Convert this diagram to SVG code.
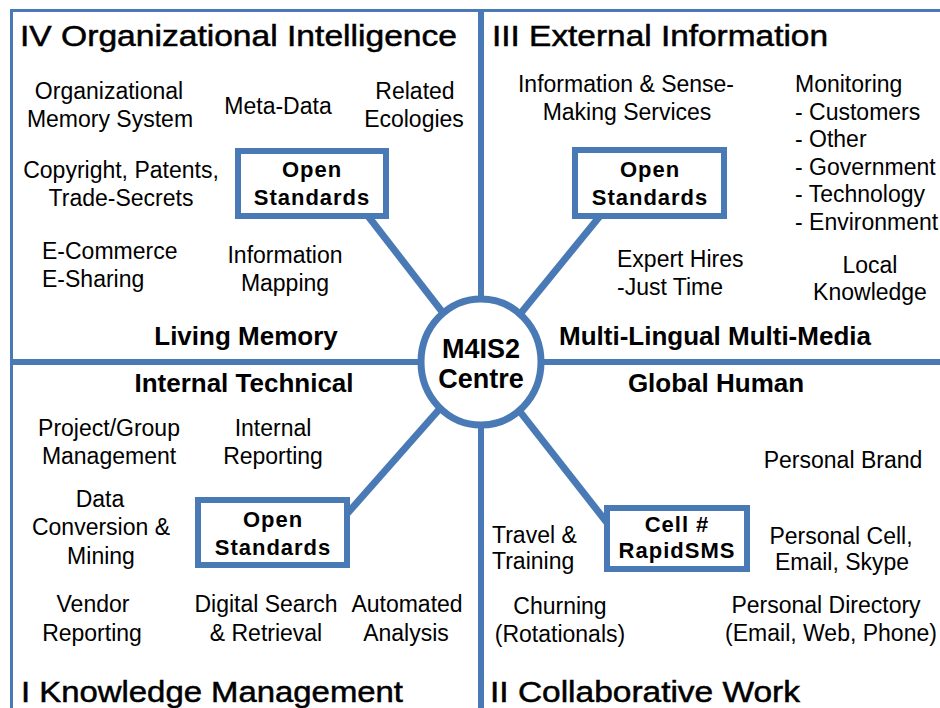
<svg xmlns="http://www.w3.org/2000/svg" width="940" height="708" viewBox="0 0 940 708">
<style>
text{font-family:"Liberation Sans",Arial,Helvetica,sans-serif;fill:#000}
.t{font-size:29px;stroke:#000;stroke-width:0.5}
.s{font-size:26px;font-weight:bold;text-anchor:middle}
.b{font-size:23px;text-anchor:middle}
.bl{font-size:23px;text-anchor:start}
.k{font-size:22px;font-weight:bold;text-anchor:middle;letter-spacing:1px}
.c{font-size:27px;font-weight:bold;text-anchor:middle}
.fr{stroke:#4A7AB5;stroke-width:3;fill:none}
.dv{stroke:#4A7AB5;stroke-width:6;fill:none}
.ln{stroke:#4A7AB5;stroke-width:7;fill:none}
.bx{fill:#fff;stroke:#4A7AB5;stroke-width:6}
</style>
<rect width="940" height="708" fill="#fff"/>
<g id="frame">
<line class="fr" x1="10" y1="10.5" x2="940" y2="10.5"/>
<line class="fr" x1="11.5" y1="9" x2="11.5" y2="708"/>
<line class="dv" x1="481" y1="9" x2="481" y2="708"/>
<line class="dv" x1="10" y1="362" x2="940" y2="362"/>
</g>
<g id="connectors">
<line class="ln" x1="368" y1="216" x2="481" y2="362"/>
<line class="ln" x1="600" y1="216" x2="481" y2="362"/>
<line class="ln" x1="346" y1="515" x2="481" y2="362"/>
<line class="ln" x1="608" y1="524" x2="481" y2="362"/>
</g>
<g id="box-iv">
<rect class="bx" x="238" y="151" width="148" height="65"/>
<text class="k" x="312" y="177">Open</text>
<text class="k" x="312" y="205">Standards</text>
</g>
<g id="box-iii">
<rect class="bx" x="575" y="150" width="149" height="66"/>
<text class="k" x="650" y="177">Open</text>
<text class="k" x="650" y="205">Standards</text>
</g>
<g id="box-i">
<rect class="bx" x="198" y="500" width="149" height="65"/>
<text class="k" x="273" y="527">Open</text>
<text class="k" x="273" y="555">Standards</text>
</g>
<g id="box-ii">
<rect class="bx" x="607" y="508" width="140" height="61"/>
<text class="k" x="677" y="532">Cell #</text>
<text class="k" x="677" y="558">RapidSMS</text>
</g>
<g id="centre">
<ellipse cx="481" cy="362" rx="60" ry="63" fill="#fff" stroke="#4A7AB5" stroke-width="7"/>
<text class="c" x="481" y="358">M4IS2</text>
<text class="c" x="481" y="388">Centre</text>
</g>
<g id="quadrant-iv">
<text class="t" x="20" y="46" textLength="437" lengthAdjust="spacingAndGlyphs">IV Organizational Intelligence</text>
<text class="b" x="109" y="99">Organizational</text>
<text class="b" x="110" y="127">Memory System</text>
<text class="b" x="278" y="114">Meta-Data</text>
<text class="b" x="415" y="99">Related</text>
<text class="b" x="414" y="127">Ecologies</text>
<text class="b" x="121" y="178">Copyright, Patents,</text>
<text class="b" x="121" y="206">Trade-Secrets</text>
<text class="bl" x="42" y="259">E-Commerce</text>
<text class="bl" x="42" y="287">E-Sharing</text>
<text class="b" x="285" y="263">Information</text>
<text class="b" x="285" y="291">Mapping</text>
<text class="s" x="246" y="345">Living Memory</text>
</g>
<g id="quadrant-iii">
<text class="t" x="492" y="46" textLength="336" lengthAdjust="spacingAndGlyphs">III External Information</text>
<text class="b" x="626" y="92">Information &amp; Sense-</text>
<text class="b" x="627" y="120">Making Services</text>
<text class="bl" x="795" y="92">Monitoring</text>
<text class="bl" x="795" y="120">- Customers</text>
<text class="bl" x="795" y="147">- Other</text>
<text class="bl" x="795" y="175">- Government</text>
<text class="bl" x="795" y="202">- Technology</text>
<text class="bl" x="795" y="230">- Environment</text>
<text class="bl" x="617" y="267">Expert Hires</text>
<text class="bl" x="617" y="295">-Just Time</text>
<text class="b" x="870" y="273">Local</text>
<text class="b" x="870" y="300">Knowledge</text>
<text class="s" x="715" y="345">Multi-Lingual Multi-Media</text>
</g>
<g id="quadrant-i">
<text class="s" x="244" y="392">Internal Technical</text>
<text class="b" x="109" y="436">Project/Group</text>
<text class="b" x="109" y="464">Management</text>
<text class="b" x="273" y="436">Internal</text>
<text class="b" x="273" y="464">Reporting</text>
<text class="b" x="100" y="507">Data</text>
<text class="b" x="101" y="535">Conversion &amp;</text>
<text class="b" x="101" y="564">Mining</text>
<text class="b" x="93" y="612">Vendor</text>
<text class="b" x="92" y="641">Reporting</text>
<text class="b" x="266" y="612">Digital Search</text>
<text class="b" x="266" y="641">&amp; Retrieval</text>
<text class="b" x="407" y="612">Automated</text>
<text class="b" x="406" y="641">Analysis</text>
<text class="t" x="21" y="702" textLength="382" lengthAdjust="spacingAndGlyphs">I Knowledge Management</text>
</g>
<g id="quadrant-ii">
<text class="s" x="716" y="392">Global Human</text>
<text class="b" x="843" y="468">Personal Brand</text>
<text class="bl" x="492" y="543">Travel &amp;</text>
<text class="bl" x="492" y="569">Training</text>
<text class="b" x="841" y="544">Personal Cell,</text>
<text class="b" x="842" y="570">Email, Skype</text>
<text class="b" x="560" y="614">Churning</text>
<text class="b" x="560" y="642">(Rotationals)</text>
<text class="b" x="826" y="613">Personal Directory</text>
<text class="b" x="831" y="641">(Email, Web, Phone)</text>
<text class="t" x="490" y="702" textLength="310" lengthAdjust="spacingAndGlyphs">II Collaborative Work</text>
</g>
</svg>
